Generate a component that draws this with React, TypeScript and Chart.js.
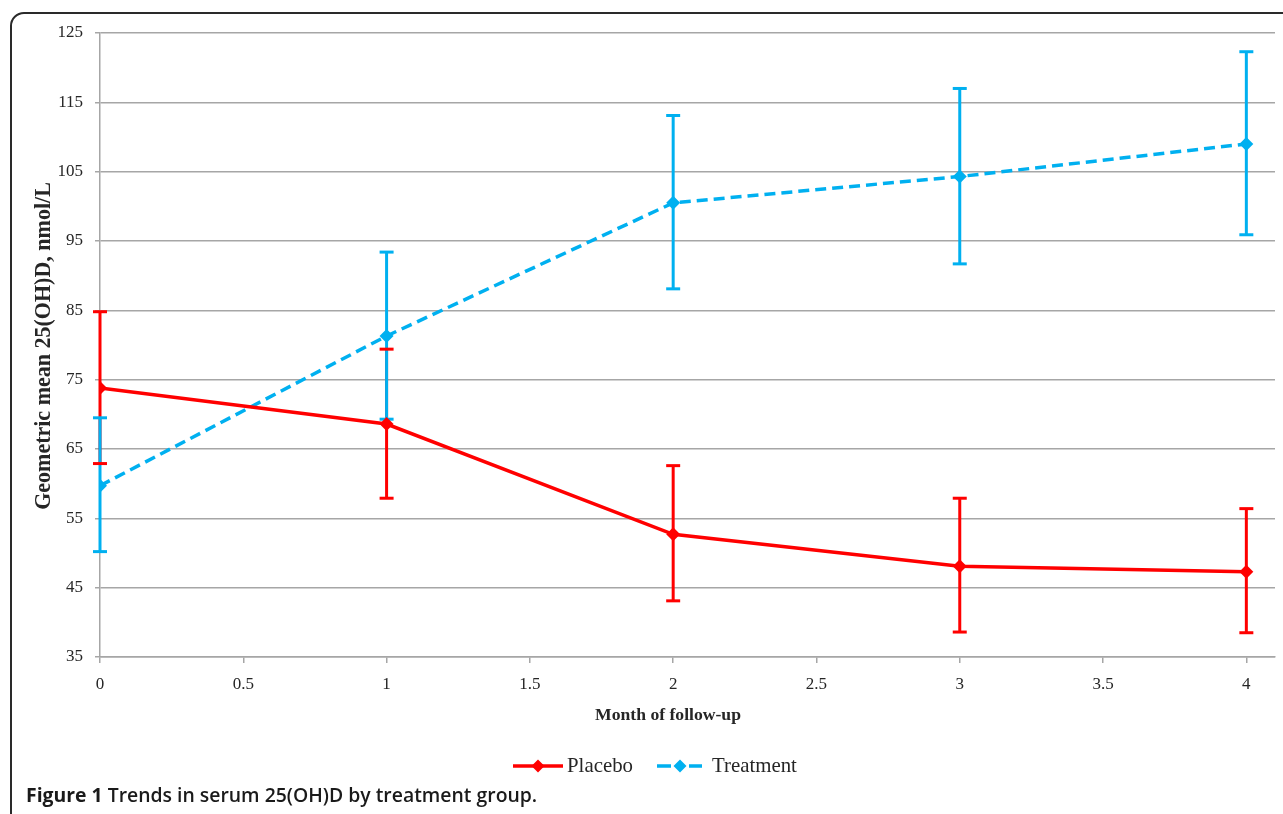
import React, { useEffect, useRef } from "react";
import { Chart, registerables } from "chart.js";

Chart.register(...registerables);

const months = [0, 1, 2, 3, 4];
const xTickLabels = ["0", "0.5", "1", "1.5", "2", "2.5", "3", "3.5", "4"];
const placeboMean = [73.8, 68.6, 52.7, 48.1, 47.3];
const placeboUpper = [84.8, 79.4, 62.6, 57.9, 56.4];
const placeboLower = [62.9, 57.9, 43.1, 38.6, 38.5];
const treatmentMean = [59.7, 81.3, 100.5, 104.3, 109.0];
const treatmentUpper = [69.5, 93.4, 113.1, 117.0, 122.3];
const treatmentLower = [50.2, 69.3, 88.1, 91.7, 95.9];
const seriesNames = ["Placebo", "Treatment"];
const yTitle = "Geometric mean 25(OH)D, nmol/L";
const xTitle = "Month of follow-up";
const captionBold = "Figure 1";
const captionRest = " Trends in serum 25(OH)D by treatment group.";

const RED = "#FF0000";
const BLUE = "#00B0F0";
const GRID = "#A6A6A6";
const TEXT = "#262626";
const SERIF = "'Liberation Serif', 'DejaVu Serif', serif";

function fitSize(ctx: CanvasRenderingContext2D, text: string, weight: string, target: number, base: number) {
  ctx.font = `${weight} ${base}px ${SERIF}`;
  const w = ctx.measureText(text).width;
  return Math.max(8, Math.min(base * 1.4, (base * target) / w));
}

const errorBarPlugin = {
  id: "errorBars",
  beforeDatasetsDraw(chart: any) {
    const ctx = chart.ctx;
    const xs = chart.scales.x;
    const ys = chart.scales.y;
    const sets = [
      { lo: placeboLower, hi: placeboUpper, color: RED },
      { lo: treatmentLower, hi: treatmentUpper, color: BLUE },
    ];
    ctx.save();
    ctx.lineWidth = 3;
    sets.forEach((s) => {
      ctx.strokeStyle = s.color;
      months.forEach((m, i) => {
        const x = xs.getPixelForValue(m);
        ctx.beginPath();
        ctx.moveTo(x, ys.getPixelForValue(s.hi[i]));
        ctx.lineTo(x, ys.getPixelForValue(s.lo[i]));
        ctx.stroke();
      });
    });
    sets.forEach((s) => {
      ctx.strokeStyle = s.color;
      months.forEach((m, i) => {
        const x = xs.getPixelForValue(m);
        [s.hi[i], s.lo[i]].forEach((v) => {
          const y = ys.getPixelForValue(v);
          ctx.beginPath();
          ctx.moveTo(x - 7, y);
          ctx.lineTo(x + 7, y);
          ctx.stroke();
        });
      });
    });
    ctx.restore();
  },
};

function diamond(ctx: CanvasRenderingContext2D, x: number, y: number, r: number, color: string) {
  ctx.fillStyle = color;
  ctx.beginPath();
  ctx.moveTo(x, y - r);
  ctx.lineTo(x + r, y);
  ctx.lineTo(x, y + r);
  ctx.lineTo(x - r, y);
  ctx.closePath();
  ctx.fill();
}

const textPlugin = {
  id: "texts",
  afterDraw(chart: any) {
    const ctx: CanvasRenderingContext2D = chart.ctx;
    ctx.save();
    ctx.fillStyle = TEXT;
    // x title
    ctx.font = `bold ${fitSize(ctx, xTitle, "bold", 146, 18).toFixed(2)}px ${SERIF}`;
    ctx.textAlign = "center";
    ctx.textBaseline = "alphabetic";
    ctx.fillText(xTitle, 668, 720);
    // y title
    ctx.save();
    ctx.translate(44, 346);
    ctx.rotate(-Math.PI / 2);
    ctx.font = `bold ${fitSize(ctx, yTitle, "bold", 328, 17).toFixed(2)}px ${SERIF}`;
    ctx.textBaseline = "middle";
    ctx.textAlign = "center";
    ctx.fillText(yTitle, 0, 0);
    ctx.restore();
    // legend
    const ly = 766;
    ctx.lineWidth = 3.5;
    ctx.strokeStyle = RED;
    ctx.beginPath();
    ctx.moveTo(513, ly);
    ctx.lineTo(563, ly);
    ctx.stroke();
    diamond(ctx, 538, ly, 6.5, RED);
    ctx.strokeStyle = BLUE;
    ctx.beginPath();
    ctx.moveTo(657, ly);
    ctx.lineTo(671, ly);
    ctx.moveTo(689, ly);
    ctx.lineTo(702, ly);
    ctx.stroke();
    diamond(ctx, 680, ly, 6.5, BLUE);
    ctx.fillStyle = TEXT;
    ctx.textAlign = "left";
    ctx.textBaseline = "alphabetic";
    const legSize = fitSize(ctx, seriesNames[0], "normal", 66, 19);
    ctx.font = `normal ${legSize.toFixed(2)}px ${SERIF}`;
    ctx.fillText(seriesNames[0], 567, 772);
    ctx.fillText(seriesNames[1], 712, 772);
    ctx.restore();
  },
};

export default function App() {
  const ref = useRef<HTMLCanvasElement>(null);
  useEffect(() => {
    const canvas = ref.current;
    if (!canvas) return;
    const tickFont = { family: SERIF, size: 17 };
    const chart = new Chart(canvas, {
      type: "line",
      data: {
        datasets: [
          {
            label: seriesNames[0],
            data: months.map((m, i) => ({ x: m, y: placeboMean[i] })),
            borderColor: RED,
            backgroundColor: RED,
            borderWidth: 3.5,
            pointStyle: "rectRot",
            pointRadius: 7,
            pointBorderWidth: 0,
            pointBackgroundColor: RED,
            tension: 0,
          },
          {
            label: seriesNames[1],
            data: months.map((m, i) => ({ x: m, y: treatmentMean[i] })),
            borderColor: BLUE,
            backgroundColor: BLUE,
            borderWidth: 3.5,
            borderDash: [11, 6],
            pointStyle: "rectRot",
            pointRadius: 7,
            pointBorderWidth: 0,
            pointBackgroundColor: BLUE,
            tension: 0,
          },
        ],
      },
      options: {
        responsive: false,
        animation: false,
        devicePixelRatio: 1,
        layout: { padding: { left: 0, top: 33, right: 8, bottom: 0 } },
        plugins: { legend: { display: false }, tooltip: { enabled: false } },
        scales: {
          x: {
            type: "linear",
            min: 0,
            max: 4.1,
            afterFit: (s: any) => {
              s.height = 157;
            },
            ticks: {
              stepSize: 0.5,
              includeBounds: false,
              autoSkip: false,
              maxRotation: 0,
              font: tickFont,
              color: TEXT,
              padding: 11,
              callback: (v: any, i: number) => xTickLabels[i] ?? String(v),
            },
            grid: { drawOnChartArea: false, tickLength: 6, color: GRID, lineWidth: 1.5 },
            border: { color: GRID, width: 1.5 },
          },
          y: {
            min: 35,
            max: 125,
            afterFit: (s: any) => {
              s.width = 100;
            },
            ticks: { stepSize: 10, font: tickFont, color: TEXT, padding: 12 },
            grid: { color: GRID, lineWidth: 1.5, tickLength: 5 },
            border: { color: GRID, width: 1.5 },
          },
        },
      } as any,
      plugins: [errorBarPlugin, textPlugin],
    });
    return () => chart.destroy();
  }, []);

  return (
    <div style={{ position: "absolute", left: 0, top: 0, width: 1283, height: 814, overflow: "hidden", background: "#fff" }}>
      <div
        style={{
          position: "absolute",
          left: 10,
          top: 12,
          width: 1400,
          height: 1000,
          border: "2px solid #2a2a2a",
          borderRadius: 14,
          boxSizing: "border-box",
        }}
      />
      <canvas ref={ref} width={1283} height={814} style={{ position: "absolute", left: 0, top: 0, width: 1283, height: 814 }} />
      <div
        style={{
          position: "absolute",
          left: 26,
          top: 783,
          fontFamily: "'Open Sans', 'Noto Sans', sans-serif",
          fontSize: 19.4,
          color: "#1a1a1a",
          whiteSpace: "nowrap",
          lineHeight: "24px",
        }}
      >
        <span style={{ fontWeight: 700 }}>{captionBold}</span>
        <span style={{ fontWeight: 600 }}>{captionRest}</span>
      </div>
    </div>
  );
}
